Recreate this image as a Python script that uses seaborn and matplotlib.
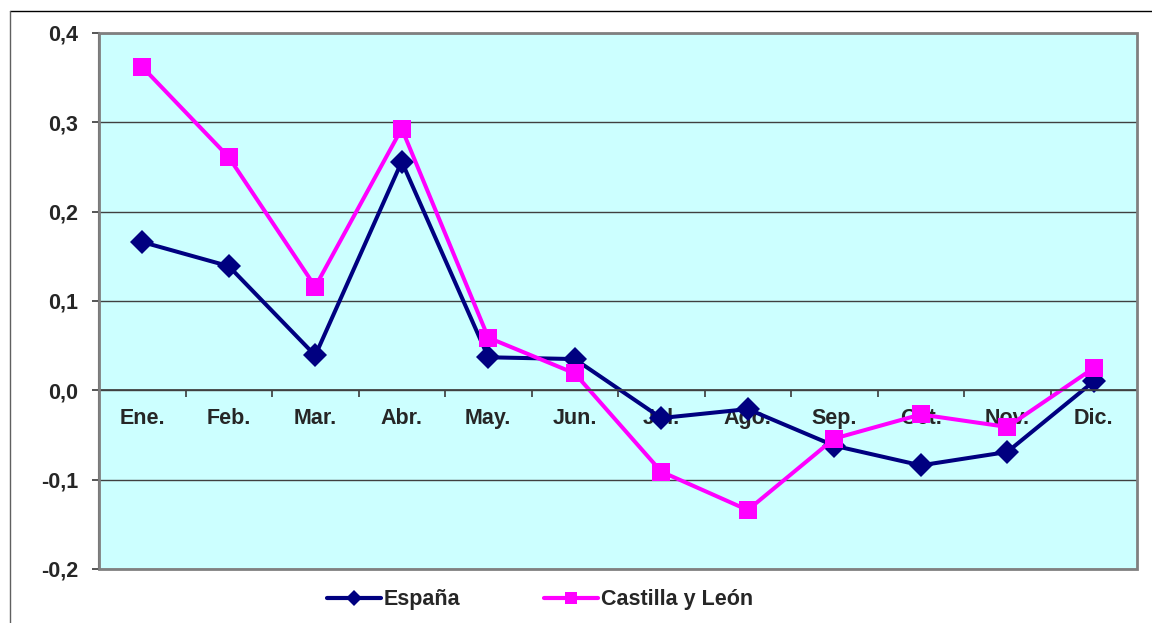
import pandas as pd
import numpy as np
import matplotlib
matplotlib.use("Agg")
import matplotlib.pyplot as plt
from matplotlib.lines import Line2D
from matplotlib.patches import Rectangle
import seaborn as sns

meses = ["Ene.", "Feb.", "Mar.", "Abr.", "May.", "Jun.",
         "Jul.", "Ago.", "Sep.", "Oct.", "Nov.", "Dic."]
espana = [0.166, 0.139, 0.039, 0.256, 0.037, 0.035,
          -0.031, -0.021, -0.062, -0.084, -0.069, 0.010]
castilla = [0.362, 0.261, 0.116, 0.293, 0.059, 0.019,
            -0.091, -0.134, -0.054, -0.027, -0.041, 0.025]
y_ticks = [-0.2, -0.1, 0.0, 0.1, 0.2, 0.3, 0.4]

sns.set_theme(style="white")
plt.rcParams["font.family"] = ["Liberation Sans", "DejaVu Sans"]
plt.rcParams["font.weight"] = "bold"
fs = 15.5

pos = np.arange(len(meses))
df = pd.DataFrame({"pos": pos, "mes": meses, "España": espana, "Castilla y León": castilla})

fig = plt.figure(figsize=(11.52, 6.23), dpi=100)
ax = fig.add_axes([99 / 1152, 1 - 569 / 623, (1137 - 99) / 1152, (569 - 33) / 623])
ax.set_facecolor("#CCFFFF")

sns.lineplot(data=df, x="pos", y="España", ax=ax, color="#000080", lw=2.9,
             marker="D", markersize=12, markeredgewidth=0, legend=False)
sns.lineplot(data=df, x="pos", y="Castilla y León", ax=ax, color="#FF00FF", lw=2.9,
             marker="s", markersize=12.5, markeredgewidth=0, legend=False)

ax.set_xlim(-0.5, len(meses) - 0.5)
ax.set_ylim(-0.2, 0.4)
ax.set_yticks(y_ticks)
ax.set_yticklabels([f"{v:.1f}".replace(".", ",") for v in y_ticks], fontsize=fs, fontweight="bold")
ax.yaxis.grid(True, color="#404040", lw=1)
ax.set_axisbelow(True)

# x axis sits on the zero line
ax.spines["bottom"].set_position(("data", 0))
ax.spines["bottom"].set_color("#404040")
ax.spines["left"].set_color("#404040")
ax.spines["left"].set_linewidth(1.5)
for s in ["top", "right"]:
    ax.spines[s].set_visible(False)
ax.add_patch(Rectangle((0, 0), 1, 1, transform=ax.transAxes, fill=False,
                       edgecolor="#808080", lw=2, zorder=5, clip_on=False))

ax.set_xticks(pos[:-1] + 0.5)
ax.set_xticklabels([])
ax.set_xticks(pos, minor=True)
ax.set_xticklabels(meses, minor=True, fontsize=fs, fontweight="bold")
ax.tick_params(axis="x", which="major", direction="out", length=5, color="#404040", bottom=True)
ax.tick_params(axis="x", which="minor", length=0, pad=13)
ax.tick_params(axis="y", direction="out", length=5, color="#404040", left=True, pad=10)
ax.set_xlabel("")
ax.set_ylabel("")

handles = [Line2D([], [], color="#000080", lw=3, marker="D", markersize=8, markeredgewidth=0),
           Line2D([], [], color="#FF00FF", lw=3, marker="s", markersize=9, markeredgewidth=0)]
fig.legend(handles, ["España", "Castilla y León"], loc="center left",
           bbox_to_anchor=(316 / 1152, 1 - 600 / 623), ncol=2, borderpad=0,
           frameon=False, handlelength=2.5, handletextpad=0.15, columnspacing=3.9,
           prop={"size": fs, "weight": "bold"})

# outer frame
fig.add_artist(Line2D([10 / 1152, 1], [1 - 11 / 623, 1 - 11 / 623], color="black", lw=1))
fig.add_artist(Line2D([10 / 1152, 10 / 1152], [0, 1 - 11 / 623], color="#606060", lw=1))

fig.savefig("out.png", dpi=100)
